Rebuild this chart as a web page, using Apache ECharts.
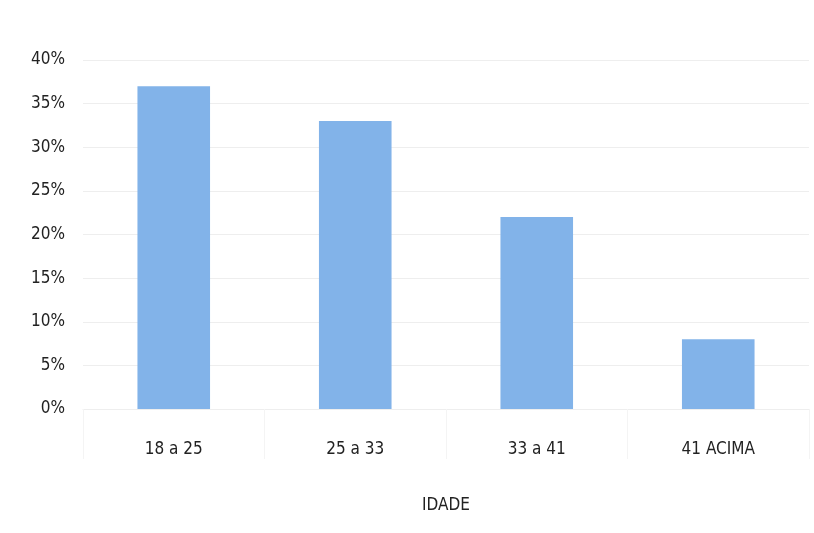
<!DOCTYPE html>
<html><head><meta charset="utf-8">
<script src="https://cdn.jsdelivr.net/npm/echarts@6/dist/echarts.min.js"></script>
<style>html,body{margin:0;padding:0;background:#fff}#c{width:814px;height:533px}</style>
</head><body><div id="c"></div>
<script>
var categories = ['18 a 25', '25 a 33', '33 a 41', '41 ACIMA'];
var values = [37, 33, 22, 8];
var axisName = 'IDADE';

var chart = echarts.init(document.getElementById('c'));
var font = "'DejaVu Sans Condensed', 'Open Sans', sans-serif";
chart.setOption({
  animation: false,
  grid: {left: 83, right: 5, top: 60, bottom: 124, containLabel: false},
  xAxis: {
    type: 'category', data: categories,
    name: axisName, nameLocation: 'middle', nameGap: 88,
    nameTextStyle: {color: '#222', fontSize: 17, fontFamily: font},
    axisLine: {show: true, lineStyle: {color: '#eeeeee'}},
    axisTick: {show: true, length: 50, lineStyle: {color: '#f4f4f4'}},
    axisLabel: {color: '#222', fontSize: 17, fontFamily: font, margin: 32}
  },
  yAxis: {
    type: 'value', min: 0, max: 40, interval: 5,
    axisLine: {show: false}, axisTick: {show: false},
    splitLine: {lineStyle: {color: '#eeeeee'}},
    axisLabel: {color: '#222', fontSize: 17, fontFamily: font, margin: 18,
      formatter: function(v){return v + '%';}}
  },
  series: [{
    type: 'bar', data: values, barCategoryGap: '60%',
    itemStyle: {color: '#82b3e9'}
  }]
});
</script></body></html>
